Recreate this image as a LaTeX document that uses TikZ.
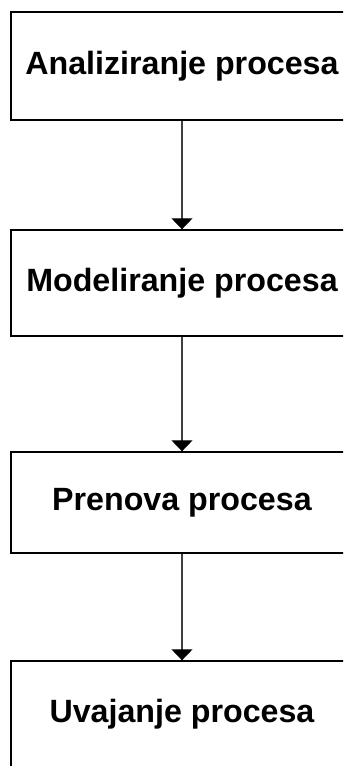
\documentclass[tikz,border=0pt]{standalone}
\usepackage{fontspec}
\setmainfont{Liberation Sans}
\usetikzlibrary{arrows.meta}
\begin{document}
\begin{tikzpicture}[x=1pt,y=-1pt,
  stage/.style={draw=black, line width=1.4pt, fill=white, rectangle,
    minimum width=342pt, inner sep=0pt,
    font=\fontsize{32.2}{36}\selectfont\bfseries},
  flow/.style={draw=black!75, line width=1.1pt,
    -{Triangle[width=21pt,length=11pt,black]}, shorten >=0pt}]
  \useasboundingbox (0,0) rectangle (343,766);
  \clip (0,0) rectangle (343,766);
  \node[stage, minimum height=108pt] (a) at (182,66) {Analiziranje procesa};
  \node[stage, minimum height=106pt] (m) at (182,283) {Modeliranje procesa};
  \node[stage, minimum height=101pt] (p) at (182,502.5) {Prenova procesa};
  \node[stage, minimum height=107pt] (u) at (182,714.5) {Uvajanje procesa};
  \draw[flow] (a.south) -- (m.north);
  \draw[flow] (m.south) -- (p.north);
  \draw[flow] (p.south) -- (u.north);
\end{tikzpicture}
\end{document}
